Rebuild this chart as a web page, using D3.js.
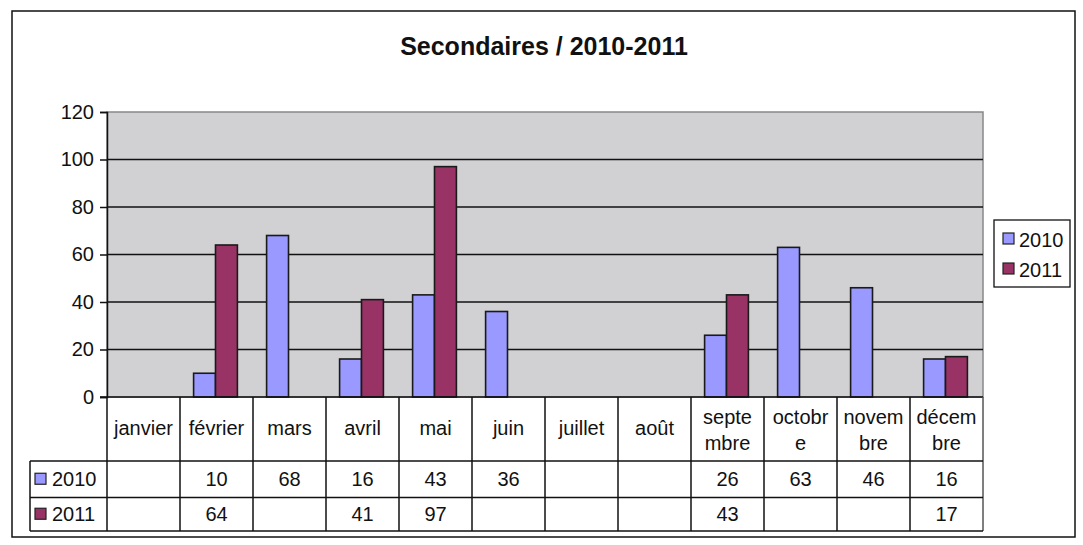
<!DOCTYPE html>
<html>
<head>
<meta charset="utf-8">
<script src="https://cdn.jsdelivr.net/npm/d3@7"></script>
<style>
  body { margin: 0; background: #fff; }
  svg { display: block; font-family: "Liberation Sans", Arial, sans-serif; }
</style>
</head>
<body>
<svg width="1083" height="545"></svg>
<script>
var months = ["janvier", "février", "mars", "avril", "mai", "juin", "juillet", "août", "septembre", "octobre", "novembre", "décembre"];
// the way the table wraps the month names
var monthLines = [["janvier"], ["février"], ["mars"], ["avril"], ["mai"], ["juin"], ["juillet"], ["août"], ["septe", "mbre"], ["octobr", "e"], ["novem", "bre"], ["décem", "bre"]];
var seriesNames = ["2010", "2011"];
var values2010 = [null, 10, 68, 16, 43, 36, null, null, 26, 63, 46, 16];
var values2011 = [null, 64, null, 41, 97, null, null, null, 43, null, null, 17];
var yTicks = [0, 20, 40, 60, 80, 100, 120];
var colors = ["#9999ff", "#993366"];

var svg = d3.select("svg");
var series = [values2010, values2011];

var plotLeft = 107, plotRight = 983, plotTop = 112, plotBottom = 397;
var rowTop = [461, 497.5], rowBottom = 531;
var fs = 20;

// outer frame
svg.append("rect")
    .attr("x", 12).attr("y", 11).attr("width", 1063).attr("height", 526)
    .attr("fill", "#fff").attr("stroke", "#111").attr("stroke-width", 1.5);

svg.append("text")
    .attr("x", 544).attr("y", 55)
    .attr("text-anchor", "middle")
    .attr("font-size", 25).attr("font-weight", "bold")
    .attr("fill", "#111")
    .text("Secondaires / 2010-2011");

var x = d3.scaleBand().domain(months).range([plotLeft, plotRight]);
var y = d3.scaleLinear().domain([0, 120]).range([plotBottom, plotTop]);

// plot area
svg.append("rect")
    .attr("x", plotLeft).attr("y", plotTop).attr("width", plotRight - plotLeft).attr("height", plotBottom - plotTop)
    .attr("fill", "#d1d1d3").attr("stroke", "#888").attr("stroke-width", 1.5);

svg.append("g")
  .selectAll("line")
  .data(yTicks.filter(function(d) { return d > 0 && d < 120; }))
  .enter().append("line")
    .attr("x1", plotLeft).attr("x2", plotRight)
    .attr("y1", function(d) { return y(d); })
    .attr("y2", function(d) { return y(d); })
    .attr("stroke", "#111").attr("stroke-width", 1.3);

// bars
var bw = x.bandwidth() * 0.3;
var off = (x.bandwidth() - 2 * bw) / 2 - 1;
series.forEach(function(vals, s) {
  svg.append("g")
    .selectAll("rect")
    .data(months.map(function(m, i) { return {m: m, v: vals[i]}; }).filter(function(d) { return d.v != null; }))
    .enter().append("rect")
      .attr("x", function(d) { return x(d.m) + off + s * bw; })
      .attr("y", function(d) { return y(d.v); })
      .attr("width", bw)
      .attr("height", function(d) { return y(0) - y(d.v); })
      .attr("fill", colors[s])
      .attr("stroke", "#1a1a1a").attr("stroke-width", 1.6);
});

// y axis
var yAxis = svg.append("g")
    .attr("transform", "translate(" + plotLeft + ",0)")
    .call(d3.axisLeft(y).tickValues(yTicks).tickSize(7).tickPadding(6));
yAxis.select(".domain").attr("stroke", "#111").attr("stroke-width", 1.5);
yAxis.selectAll(".tick line").attr("stroke", "#111").attr("stroke-width", 1.5);
yAxis.selectAll("text").attr("font-size", fs).attr("fill", "#111")
    .attr("font-family", "Liberation Sans, Arial, sans-serif");

svg.append("line")
    .attr("x1", plotLeft - 7).attr("x2", plotRight)
    .attr("y1", plotBottom).attr("y2", plotBottom)
    .attr("stroke", "#111").attr("stroke-width", 1.5);

// data table
var tbl = svg.append("g").attr("stroke", "#111").attr("stroke-width", 1.5);
months.forEach(function(m) {
  tbl.append("line")
      .attr("x1", x(m)).attr("x2", x(m))
      .attr("y1", plotBottom).attr("y2", rowBottom);
});
tbl.append("line").attr("x1", plotRight).attr("x2", plotRight).attr("y1", plotBottom).attr("y2", rowBottom).attr("stroke", "#555");
tbl.append("line").attr("x1", 30).attr("x2", 30).attr("y1", rowTop[0]).attr("y2", rowBottom);
[rowTop[0], rowTop[1], rowBottom].forEach(function(yy) {
  tbl.append("line").attr("x1", 30).attr("x2", plotRight).attr("y1", yy).attr("y2", yy);
});

var hdr = svg.append("g")
  .selectAll("text")
  .data(months)
  .enter().append("text")
    .attr("x", function(d) { return x(d) + x.bandwidth() / 2; })
    .attr("text-anchor", "middle")
    .attr("font-size", fs).attr("fill", "#111");
hdr.each(function(d, i) {
  var lines = monthLines[i];
  var t = d3.select(this);
  var y0 = lines.length === 1 ? 435 : 424;
  lines.forEach(function(l, k) {
    t.append("tspan")
        .attr("x", x(d) + x.bandwidth() / 2)
        .attr("y", y0 + k * 26)
        .text(l);
  });
});

series.forEach(function(vals, s) {
  var cy = (rowTop[s] + (s === 0 ? rowTop[1] : rowBottom)) / 2 + 7;
  svg.append("rect")
      .attr("x", 35).attr("y", cy - 13).attr("width", 11).attr("height", 11)
      .attr("fill", colors[s]).attr("stroke", "#222").attr("stroke-width", 1.2);
  svg.append("text")
      .attr("x", 52).attr("y", cy)
      .attr("font-size", fs).attr("fill", "#111")
      .text(seriesNames[s]);
  svg.append("g")
    .selectAll("text")
    .data(months.map(function(m, i) { return {m: m, v: vals[i]}; }).filter(function(d) { return d.v != null; }))
    .enter().append("text")
      .attr("x", function(d) { return x(d.m) + x.bandwidth() / 2; })
      .attr("y", cy)
      .attr("text-anchor", "middle")
      .attr("font-size", fs).attr("fill", "#111")
      .text(function(d) { return d.v; });
});

// legend
var lg = svg.append("g");
lg.append("rect")
    .attr("x", 994).attr("y", 220).attr("width", 76).attr("height", 67)
    .attr("fill", "#fff").attr("stroke", "#111").attr("stroke-width", 1.3);
seriesNames.forEach(function(n, i) {
  var cy = 247 + i * 30;
  lg.append("rect")
      .attr("x", 1003).attr("y", cy - 14).attr("width", 11).attr("height", 11)
      .attr("fill", colors[i]).attr("stroke", "#222").attr("stroke-width", 1.2);
  lg.append("text")
      .attr("x", 1019).attr("y", cy)
      .attr("font-size", fs).attr("fill", "#111")
      .text(n);
});
</script>
</body>
</html>
